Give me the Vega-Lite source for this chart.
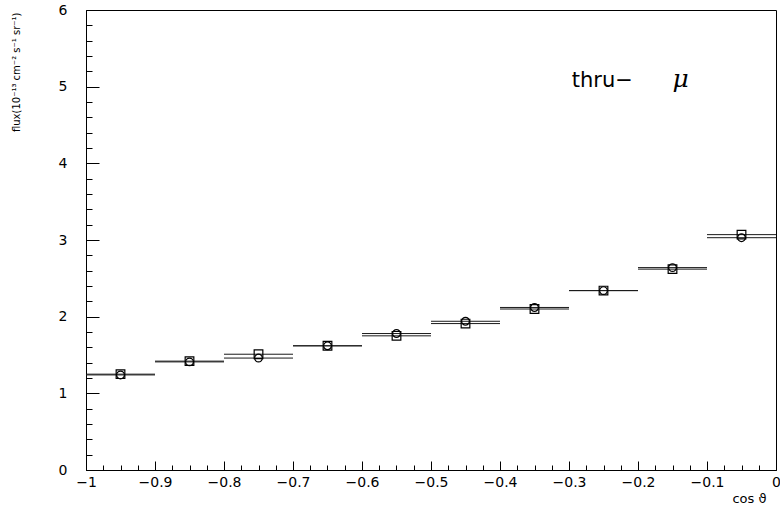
{
  "$schema": "https://vega.github.io/schema/vega-lite/v6.json",
  "width": 690,
  "height": 460,
  "autosize": {"type": "none"},
  "padding": {"left": 86, "top": 10, "right": 4, "bottom": 40},
  "background": "white",
  "config": {
    "view": {"stroke": "black", "strokeWidth": 1},
    "axis": {"domainColor": "black", "tickColor": "black", "labelColor": "black", "titleColor": "black", "labelFont": "DejaVu Sans", "titleFont": "DejaVu Sans", "grid": false, "labelOverlap": false, "labelFlush": false, "labelBound": false, "titleFontWeight": "normal", "tickCount": 200}
  },
  "data": {
    "values": [
      {"series": "circle", "lo": -1.0, "hi": -0.9, "c": -0.95, "flux": 1.24},
      {"series": "circle", "lo": -0.9, "hi": -0.8, "c": -0.85, "flux": 1.41},
      {"series": "circle", "lo": -0.8, "hi": -0.7, "c": -0.75, "flux": 1.46},
      {"series": "circle", "lo": -0.7, "hi": -0.6, "c": -0.65, "flux": 1.62},
      {"series": "circle", "lo": -0.6, "hi": -0.5, "c": -0.55, "flux": 1.78},
      {"series": "circle", "lo": -0.5, "hi": -0.4, "c": -0.45, "flux": 1.94},
      {"series": "circle", "lo": -0.4, "hi": -0.3, "c": -0.35, "flux": 2.12},
      {"series": "circle", "lo": -0.3, "hi": -0.2, "c": -0.25, "flux": 2.34},
      {"series": "circle", "lo": -0.2, "hi": -0.1, "c": -0.15, "flux": 2.64},
      {"series": "circle", "lo": -0.1, "hi": 0.0, "c": -0.05, "flux": 3.03},
      {"series": "square", "lo": -1.0, "hi": -0.9, "c": -0.95, "flux": 1.25},
      {"series": "square", "lo": -0.9, "hi": -0.8, "c": -0.85, "flux": 1.42},
      {"series": "square", "lo": -0.8, "hi": -0.7, "c": -0.75, "flux": 1.51},
      {"series": "square", "lo": -0.7, "hi": -0.6, "c": -0.65, "flux": 1.62},
      {"series": "square", "lo": -0.6, "hi": -0.5, "c": -0.55, "flux": 1.75},
      {"series": "square", "lo": -0.5, "hi": -0.4, "c": -0.45, "flux": 1.91},
      {"series": "square", "lo": -0.4, "hi": -0.3, "c": -0.35, "flux": 2.10},
      {"series": "square", "lo": -0.3, "hi": -0.2, "c": -0.25, "flux": 2.34},
      {"series": "square", "lo": -0.2, "hi": -0.1, "c": -0.15, "flux": 2.62},
      {"series": "square", "lo": -0.1, "hi": 0.0, "c": -0.05, "flux": 3.07}
    ]
  },
  "layer": [
    {
      "mark": {"type": "rule", "color": "#1a1a1a", "strokeWidth": 1},
      "encoding": {
        "x": {
          "field": "lo", "type": "quantitative",
          "scale": {"domain": [-1, 0], "nice": false, "zero": false},
          "axis": {
            "title": "cos ϑ",
            "values": [-1, -0.975, -0.95, -0.925, -0.9, -0.875, -0.85, -0.825, -0.8, -0.775, -0.75, -0.725, -0.7, -0.675, -0.65, -0.625, -0.6, -0.575, -0.55, -0.525, -0.5, -0.475, -0.45, -0.425, -0.4, -0.375, -0.35, -0.325, -0.3, -0.275, -0.25, -0.225, -0.2, -0.175, -0.15, -0.125, -0.1, -0.075, -0.05, -0.025, 0],
            "tickCount": 200,
            "format": "~g",
            "labelExpr": "abs(datum.value*10 - round(datum.value*10)) < 0.001 ? datum.label : ''",
            "tickSize": {"condition": {"test": "abs(datum.value*10 - round(datum.value*10)) < 0.001", "value": -9}, "value": -5},
            "labelPadding": 14,
            "labelFontSize": 14,
            "titleFontSize": 13,
            "titleX": 680,
            "titleY": 28,
            "titleAlign": "right",
            "titleBaseline": "middle",
            "titleAnchor": "end"
          }
        },
        "x2": {"field": "hi"},
        "y": {
          "field": "flux", "type": "quantitative",
          "scale": {"domain": [0, 6], "nice": false, "zero": false},
          "axis": {
            "title": "flux(10⁻¹³ cm⁻² s⁻¹ sr⁻¹)",
            "values": [0, 0.2, 0.4, 0.6, 0.8, 1, 1.2, 1.4, 1.6, 1.8, 2, 2.2, 2.4, 2.6, 2.8, 3, 3.2, 3.4, 3.6, 3.8, 4, 4.2, 4.4, 4.6, 4.8, 5, 5.2, 5.4, 5.6, 5.8, 6],
            "tickCount": 200,
            "format": "~g",
            "labelExpr": "abs(datum.value - round(datum.value)) < 0.001 ? datum.label : ''",
            "tickSize": {"condition": {"test": "abs(datum.value - round(datum.value)) < 0.001", "value": -13}, "value": -6},
            "labelPadding": 32,
            "labelFontSize": 14,
            "titleFontSize": 10,
            "titleX": -70,
            "titleY": 2,
            "titleAngle": -90,
            "titleAlign": "right",
            "titleBaseline": "middle",
            "titleAnchor": "end"
          }
        }
      }
    },
    {
      "transform": [{"filter": "datum.series === 'circle'"}],
      "mark": {"type": "point", "shape": "circle", "filled": false, "stroke": "black", "strokeWidth": 1.2, "size": 60, "opacity": 1},
      "encoding": {
        "x": {"field": "c", "type": "quantitative"},
        "y": {"field": "flux", "type": "quantitative"}
      }
    },
    {
      "transform": [{"filter": "datum.series === 'square'"}],
      "mark": {"type": "point", "shape": "square", "filled": false, "stroke": "black", "strokeWidth": 1.2, "size": 75, "opacity": 1},
      "encoding": {
        "x": {"field": "c", "type": "quantitative"},
        "y": {"field": "flux", "type": "quantitative"}
      }
    },
    {
      "data": {"values": [{"tx": -0.296, "ty": 5.0, "label": "thru−"}]},
      "mark": {"type": "text", "font": "DejaVu Sans", "fontSize": 21, "align": "left", "baseline": "alphabetic", "color": "black"},
      "encoding": {
        "x": {"field": "tx", "type": "quantitative"},
        "y": {"field": "ty", "type": "quantitative"},
        "text": {"field": "label"}
      }
    },
    {
      "data": {"values": [{"tx": -0.15, "ty": 5.0, "label": "μ"}]},
      "mark": {"type": "text", "font": "DejaVu Serif", "fontStyle": "italic", "fontSize": 25, "align": "left", "baseline": "alphabetic", "color": "black"},
      "encoding": {
        "x": {"field": "tx", "type": "quantitative"},
        "y": {"field": "ty", "type": "quantitative"},
        "text": {"field": "label"}
      }
    }
  ]
}
